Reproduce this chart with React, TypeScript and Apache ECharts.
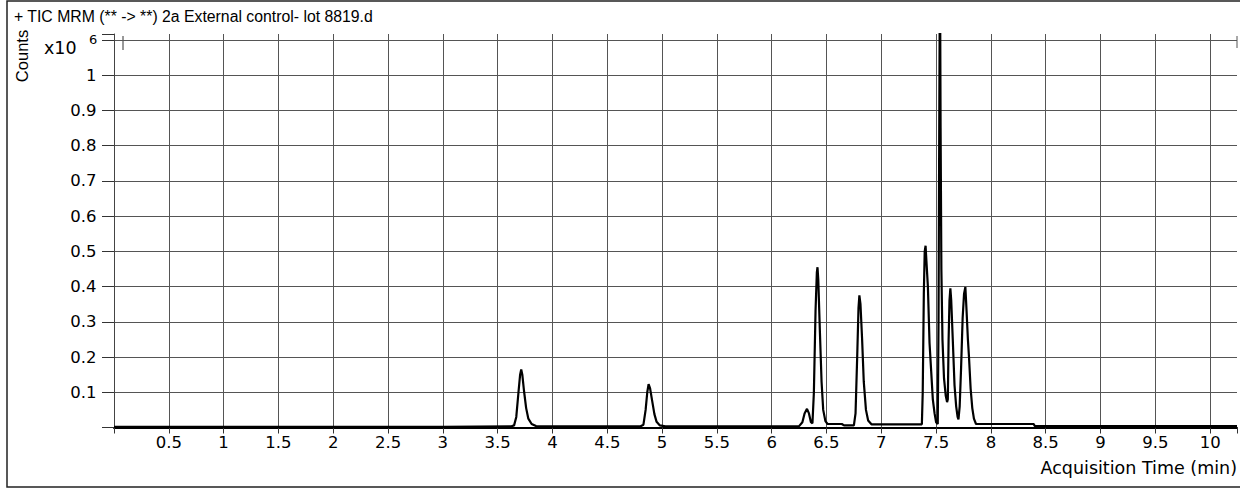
import React, { useEffect, useRef } from "react";
import * as echarts from "echarts";

const TITLE = "+ TIC MRM (** -> **) 2a External control- lot 8819.d";
const X_NAME = "Acquisition Time (min)";
const Y_NAME = "Counts";
const Y_EXP_BASE = "x10";
const Y_EXP_POWER = "6";

// x-axis range (minutes) and tick step
const X_MIN = 0;
const X_MAX = 10.245;
const X_STEP = 0.5;
// y-axis range (x10^6 counts) and tick step
const Y_MIN = 0;
const Y_MAX = 1.117;
const Y_STEP = 0.1;

// TIC trace: acquisition time (min)
const times = [
  0.0, 1.0, 2.0, 3.0, 3.62, 3.65, 3.67, 3.69, 3.705, 3.715, 3.725, 3.74, 3.76, 3.78, 3.81, 3.85,
  4.0, 4.8, 4.83, 4.85, 4.865, 4.877, 4.89, 4.91, 4.93, 4.95, 4.98, 5.03,
  6.0, 6.25, 6.28, 6.3, 6.322, 6.34, 6.358, 6.372, 6.385, 6.4, 6.412, 6.418, 6.425, 6.44, 6.455, 6.47, 6.49, 6.51,
  6.64, 6.66, 6.75, 6.765, 6.78, 6.792, 6.8, 6.81, 6.825, 6.84, 6.86, 6.88, 6.91,
  7.37, 7.378, 7.388, 7.396, 7.404, 7.412, 7.425, 7.44, 7.455, 7.47, 7.486, 7.5, 7.515,
  7.522, 7.528, 7.535, 7.541, 7.548, 7.558, 7.572, 7.588, 7.6,
  7.607, 7.614, 7.622, 7.63, 7.638, 7.652, 7.668, 7.683, 7.696, 7.704,
  7.715, 7.728, 7.742, 7.755, 7.767, 7.778, 7.79, 7.8, 7.815, 7.83, 7.845, 7.864,
  8.39, 8.4, 10.245,
];
// counts (x10^6) at each time above
const counts = [
  0.002, 0.002, 0.002, 0.002, 0.003, 0.006, 0.03, 0.1, 0.15, 0.165, 0.15, 0.105, 0.055, 0.025, 0.01, 0.004,
  0.003, 0.003, 0.008, 0.05, 0.1, 0.123, 0.112, 0.075, 0.038, 0.016, 0.006, 0.003,
  0.003, 0.004, 0.015, 0.04, 0.053, 0.04, 0.015, 0.012, 0.1, 0.33, 0.44, 0.455, 0.42, 0.27, 0.13, 0.05, 0.018, 0.01,
  0.01, 0.006, 0.006, 0.04, 0.2, 0.34, 0.375, 0.35, 0.25, 0.13, 0.05, 0.02, 0.009,
  0.009, 0.1, 0.38, 0.5, 0.516, 0.47, 0.4, 0.24, 0.16, 0.08, 0.04, 0.015, 0.01,
  0.3, 0.8, 1.35, 0.85, 0.45, 0.25, 0.14, 0.09, 0.072,
  0.08, 0.25, 0.36, 0.395, 0.36, 0.25, 0.12, 0.06, 0.03, 0.023,
  0.06, 0.17, 0.31, 0.38, 0.399, 0.33, 0.25, 0.2, 0.11, 0.055, 0.025, 0.01,
  0.01, 0.004, 0.004,
];

const FONT = "'Liberation Sans', Arial, Helvetica, sans-serif";
const WIDE_FONT = "'DejaVu Sans', Verdana, sans-serif";

export default function App() {
  const ref = useRef<HTMLDivElement>(null);

  useEffect(() => {
    if (!ref.current) return;
    const chart = echarts.init(ref.current, undefined, { renderer: "svg" });
    const data = times.map((t, i) => [t, counts[i]]);

    chart.setOption({
      animation: false,
      backgroundColor: "#ffffff",
      textStyle: { fontFamily: FONT },
      grid: { left: 114, right: 0, top: 34, bottom: 63.5, containLabel: false },
      xAxis: {
        type: "value",
        min: X_MIN,
        max: X_MAX,
        interval: X_STEP,
        axisLine: { show: true, onZero: false, lineStyle: { color: "#000", width: 2 } },
        axisTick: { show: true, length: 6, lineStyle: { color: "#333", width: 1 } },
        axisLabel: {
          color: "#000",
          fontSize: 16.5,
          fontFamily: WIDE_FONT,
          margin: 6,
          formatter: (v: number) => (v > 0.01 && v < X_MAX - 0.1 ? String(Number(v.toFixed(1))) : ""),
        },
        splitLine: {
          show: true,
          showMaxLine: false,
          lineStyle: { color: "#555", width: 1 },
        },
      },
      yAxis: {
        type: "value",
        min: Y_MIN,
        max: Y_MAX,
        interval: Y_STEP,
        offset: 2.5,
        axisLine: { show: true, lineStyle: { color: "#444", width: 1 } },
        axisTick: { show: true, length: 12, lineStyle: { color: "#333", width: 1 } },
        axisLabel: {
          color: "#000",
          fontSize: 16.5,
          fontFamily: WIDE_FONT,
          margin: 15,
          formatter: (v: number) => (v > 0.05 && v < 1.05 ? String(Number(v.toFixed(1))) : ""),
        },
        splitLine: {
          show: true,
          showMinLine: false,
          showMaxLine: false,
          lineStyle: { color: "#555", width: 1 },
        },
      },
      series: [
        {
          type: "line",
          data,
          showSymbol: false,
          symbol: "none",
          clip: true,
          lineStyle: { color: "#000", width: 2.2 },
          silent: true,
        },
      ],
      graphic: [
        {
          type: "rect",
          shape: { x: 7, y: 1, width: 1240, height: 486 },
          style: { fill: "none", stroke: "#222", lineWidth: 1.5 },
          silent: true,
        },
        {
          type: "text",
          x: 14,
          y: 16,
          style: { text: TITLE, fill: "#000", font: `15.8px ${FONT}`, verticalAlign: "middle", align: "left" },
        },
        {
          type: "text",
          x: 22,
          y: 56,
          rotation: Math.PI / 2,
          style: { text: Y_NAME, fill: "#000", font: `16.5px ${FONT}`, verticalAlign: "middle", align: "center" },
        },
        {
          type: "text",
          x: 44,
          y: 48,
          style: { text: Y_EXP_BASE, fill: "#000", font: `17.5px ${WIDE_FONT}`, verticalAlign: "middle", align: "left" },
        },
        {
          type: "text",
          x: 89,
          y: 39,
          style: { text: Y_EXP_POWER, fill: "#000", font: `13px ${WIDE_FONT}`, verticalAlign: "middle", align: "left" },
        },
        {
          type: "text",
          x: 1237,
          y: 468,
          style: { text: X_NAME, fill: "#000", font: `17.5px ${WIDE_FONT}`, verticalAlign: "middle", align: "right" },
        },
        {
          type: "line",
          shape: { x1: 123, y1: 36, x2: 123, y2: 50 },
          style: { stroke: "#333", lineWidth: 1 },
        },
        {
          type: "line",
          shape: { x1: 1237, y1: 36, x2: 1237, y2: 48 },
          style: { stroke: "#555", lineWidth: 1 },
        },
      ],
    });

    return () => chart.dispose();
  }, []);

  return (
    <div
      ref={ref}
      style={{ position: "fixed", left: 0, top: 0, width: 1240, height: 491, background: "#fff" }}
    />
  );
}
